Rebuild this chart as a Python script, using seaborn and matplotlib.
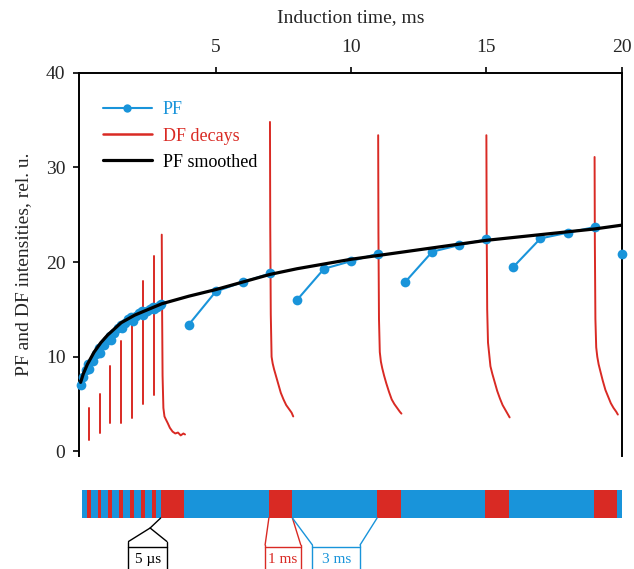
import numpy as np
import pandas as pd
import matplotlib
matplotlib.use("Agg")
import matplotlib.pyplot as plt
from matplotlib.lines import Line2D
import seaborn as sns

sns.set_theme(style="ticks")
plt.rcParams["font.family"] = ["Liberation Serif", "DejaVu Serif"]

BLUE = "#1994da"
RED = "#d92a24"

# ---- PF: prompt fluorescence, points grouped by light interval ----
pf_t = [0.0, 0.1, 0.2, 0.28,
        0.32, 0.45, 0.57, 0.68,
        0.72, 0.85, 0.97, 1.08,
        1.12, 1.25, 1.37, 1.48,
        1.52, 1.65, 1.77, 1.88,
        1.92, 2.05, 2.17, 2.28,
        2.32, 2.45, 2.57, 2.68,
        2.72, 2.82, 2.92, 2.98,
        4, 5, 6, 7,
        8, 9, 10, 11,
        12, 13, 14, 15,
        16, 17, 18, 19,
        20]
pf_v = [7.0, 7.9, 8.6, 9.2,
        8.7, 9.6, 10.3, 10.9,
        10.4, 11.2, 11.8, 12.2,
        11.8, 12.5, 13.0, 13.4,
        13.0, 13.6, 14.0, 14.2,
        13.8, 14.3, 14.6, 14.8,
        14.4, 14.8, 15.1, 15.3,
        15.0, 15.3, 15.5, 15.6,
        13.4, 16.9, 17.9, 18.8,
        16.0, 19.3, 20.1, 20.9,
        17.9, 21.1, 21.8, 22.4,
        19.5, 22.5, 23.1, 23.7,
        20.9]
pf_group = [0] * 4 + [1] * 4 + [2] * 4 + [3] * 4 + [4] * 4 + [5] * 4 + [6] * 4 + [7] * 4 \
    + [8] * 4 + [9] * 4 + [10] * 4 + [11] * 4 + [12]

# ---- PF smoothed ----
sm_t = [0, 0.1, 0.25, 0.5, 0.75, 1, 1.5, 2, 2.5, 3, 4, 5, 6, 7, 8, 9, 10,
        11, 12, 13, 14, 15, 16, 17, 18, 19, 20]
sm_v = [7.3, 8.2, 9.2, 10.5, 11.5, 12.3, 13.6, 14.4, 15.0, 15.6, 16.4, 17.1,
        17.9, 18.7, 19.3, 19.8, 20.3, 20.7, 21.1, 21.5, 21.9, 22.3, 22.6,
        22.9, 23.2, 23.5, 23.9]

# ---- DF: short decays after the 5 us dark intervals ----
flash_t = [0.3, 0.7, 1.1, 1.5, 1.9, 2.3, 2.7]
flash_top = [4.6, 6.1, 9.0, 11.7, 14.2, 18.0, 20.6]
flash_bottom = [1.2, 2.0, 3.0, 3.0, 3.5, 5.0, 6.0]

# ---- DF: 1 ms decays ----
decay_start = [3, 7, 11, 15, 19]
decay_dt = [0, 0.01, 0.03, 0.06, 0.10, 0.15, 0.22, 0.30, 0.40, 0.50, 0.60, 0.70, 0.80, 0.86]
decay_3 = [22.9, 16.0, 8.0, 4.6, 3.7, 3.4, 3.0, 2.5, 2.1, 1.9, 2.0, 1.7, 1.9, 1.8]
decay_7 = [34.8, 24.0, 14.5, 10.0, 9.3, 8.7, 8.0, 7.2, 6.2, 5.5, 4.9, 4.5, 4.1, 3.7]
decay_11 = [33.4, 23.0, 14.0, 10.5, 9.5, 8.8, 8.0, 7.2, 6.3, 5.5, 5.0, 4.6, 4.2, 4.0]
decay_15 = [33.4, 24.0, 15.0, 11.5, 10.4, 9.0, 8.2, 7.4, 6.4, 5.6, 4.9, 4.4, 3.9, 3.6]
decay_19 = [31.1, 22.0, 14.0, 11.0, 10.0, 9.2, 8.4, 7.5, 6.5, 5.8, 5.1, 4.6, 4.2, 3.9]
decay_vals = [decay_3, decay_7, decay_11, decay_15, decay_19]

# ---- light protocol bar ----
BAR_START, BAR_END = 0.04, 20.16
DF_WIDTH = 0.87
FLASH_WIDTH = 0.14

# long tables for seaborn
pf_df = pd.DataFrame({"t": pf_t, "v": pf_v, "grp": pf_group})
sm_df = pd.DataFrame({"t": sm_t, "v": sm_v})

rows = []
for i, (t, top, bot) in enumerate(zip(flash_t, flash_top, flash_bottom)):
    rows.append((t, top, i))
    rows.append((t, bot, i))
for k, (t0, vals) in enumerate(zip(decay_start, decay_vals)):
    for dt, v in zip(decay_dt, vals):
        rows.append((t0 + dt, v, 100 + k))
df_df = pd.DataFrame(rows, columns=["t", "v", "unit"])

fig = plt.figure(figsize=(6.34, 5.69), dpi=100)
ax = fig.add_axes([0.125, 0.1982, 0.8555, 0.674])

sns.lineplot(data=df_df, x="t", y="v", units="unit", estimator=None, sort=False,
             color=RED, lw=1.4, ax=ax, legend=False, zorder=2)
sns.lineplot(data=pf_df, x="t", y="v", units="grp", estimator=None, sort=False,
             color=BLUE, lw=1.5, marker="o", markersize=7, markeredgewidth=0,
             ax=ax, legend=False, zorder=3, clip_on=False)
sns.lineplot(data=sm_df, x="t", y="v", color="black", lw=2.3, ax=ax,
             legend=False, zorder=4)

ax.set_xlim(-0.05, 20)
ax.set_ylim(-0.5, 40)
ax.spines["bottom"].set_visible(False)
for s in ["left", "top", "right"]:
    ax.spines[s].set_linewidth(1.4)
    ax.spines[s].set_color("black")
ax.xaxis.tick_top()
ax.xaxis.set_label_position("top")
ax.set_xticks([5, 10, 15, 20])
ax.set_yticks([0, 10, 20, 30, 40])
ax.tick_params(axis="x", top=True, bottom=False, length=4, width=1.4, pad=8, labelsize=14)
ax.tick_params(axis="y", left=True, right=False, length=4, width=1.4, pad=6, labelsize=14)
ax.set_xlabel("Induction time, ms", fontsize=14, labelpad=12)
ax.set_ylabel("PF and DF intensities, rel. u.", fontsize=14, labelpad=10)

handles = [
    Line2D([], [], color=BLUE, lw=1.5, marker="o", markersize=6, markeredgewidth=0),
    Line2D([], [], color=RED, lw=1.8),
    Line2D([], [], color="black", lw=2.3),
]
leg = ax.legend(handles, ["PF", "DF decays", "PF smoothed"], loc="upper left",
                bbox_to_anchor=(0.044, 0.925), frameon=False, fontsize=13,
                handlelength=2.7, handletextpad=0.6, labelspacing=0.5,
                borderpad=0, borderaxespad=0)
for txt, c in zip(leg.get_texts(), [BLUE, RED, "black"]):
    txt.set_color(c)

# ---- protocol bar ----
axb = fig.add_axes([0.125, 0.0, 0.8555, 0.1388])
axb.set_xlim(ax.get_xlim())
axb.set_ylim(-51, 28)
axb.axis("off")
axb.barh(14, BAR_END - BAR_START, left=BAR_START, height=28, color=BLUE, lw=0)
axb.barh([14] * len(decay_start), DF_WIDTH, left=[t - 0.04 for t in decay_start],
         height=28, color=RED, lw=0)
axb.barh([14] * len(flash_t), FLASH_WIDTH, left=[t - FLASH_WIDTH / 2 for t in flash_t],
         height=28, color=RED, lw=0)

def bracket(x_from, x_to, box_l, box_r, color, label, apex=None):
    kw = dict(color=color, lw=1.0, clip_on=False)
    if apex is None:
        axb.plot([x_from, box_l], [0, -27], **kw)
        axb.plot([x_to, box_r], [0, -27], **kw)
        top = -27
    else:
        axb.plot([x_from, apex], [0, -10], **kw)
        axb.plot([box_l, apex, box_r], [-23.5, -10, -23.5], **kw)
        top = -23.5
    axb.plot([box_l, box_l], [top, -52], **kw)
    axb.plot([box_r, box_r], [top, -52], **kw)
    axb.plot([box_l, box_r], [-28.5, -28.5], **kw)
    axb.text((box_l + box_r) / 2, -41, label, color=color, fontsize=11,
             ha="center", va="center")

bracket(decay_start[0] - 0.04, None, 1.77, 3.19, "black", "5 µs", apex=2.57)
bracket(decay_start[1] - 0.04, decay_start[1] - 0.04 + DF_WIDTH, 6.82, 8.14, RED, "1 ms")
bracket(decay_start[1] - 0.04 + DF_WIDTH, decay_start[2] - 0.04, 8.57, 10.33, BLUE, "3 ms")

fig.savefig("out.png", dpi=100)
